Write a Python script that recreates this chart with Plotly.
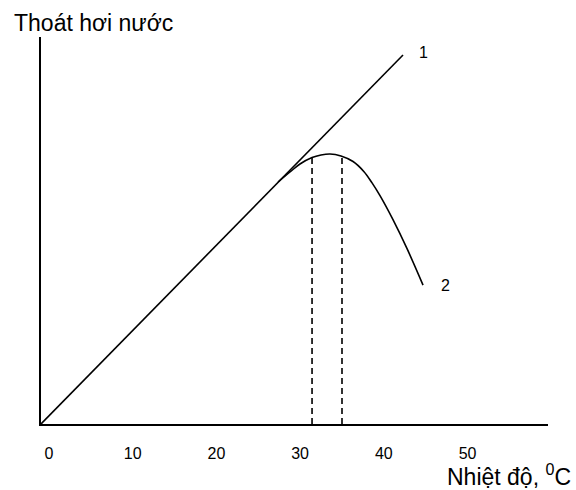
import plotly.graph_objects as go

# Data (temperature in °C, transpiration in arbitrary units)
line1_x = [0, 43.25]
line1_y = [0, 95.35]

curve2_x = [28.32, 29.75, 30.94, 32.38, 33.45, 34.53, 35.84, 37.28, 38.59, 39.55, 40.50, 42.05, 43.73, 45.64]
curve2_y = [62.53, 65.12, 67.18, 68.86, 69.51, 69.77, 69.25, 67.83, 65.20, 62.30, 59.00, 52.80, 45.30, 35.90]

dash_x = [32.38, 35.96]
dash_top = [68.86, 69.2]

tick_vals = [0, 10, 20, 30, 40, 50]
tick_text = ["0", "10", "20", "30", "40", "50"]

FONT = "Liberation Sans, Arial, sans-serif"

fig = go.Figure()
fig.add_trace(go.Scatter(x=line1_x, y=line1_y, mode="lines",
                         line=dict(color="black", width=1.6), showlegend=False))
fig.add_trace(go.Scatter(x=curve2_x, y=curve2_y, mode="lines",
                         line=dict(color="black", width=1.6, shape="spline", smoothing=1.0),
                         showlegend=False))
for dx, dt in zip(dash_x, dash_top):
    fig.add_trace(go.Scatter(x=[dx, dx], y=[0, dt], mode="lines",
                             line=dict(color="black", width=1.6, dash="6px,4px"), showlegend=False))

fig.add_annotation(x=45.64, y=96.1, text="1", showarrow=False,
                   font=dict(size=16, color="black", family=FONT))
fig.add_annotation(x=48.27, y=35.9, text="2", showarrow=False,
                   font=dict(size=16, color="black", family=FONT))

fig.add_annotation(xref="paper", yref="paper", x=-0.058, y=1.036, xanchor="left", yanchor="middle",
                   text="Thoát hơi nước", showarrow=False,
                   font=dict(size=23, color="black", family=FONT))
fig.add_annotation(xref="paper", yref="paper", x=1.05, y=-0.132, xanchor="right", yanchor="middle",
                   text="Nhiệt độ, <sup>0</sup>C", showarrow=False,
                   font=dict(size=23, color="black", family=FONT))

fig.update_layout(
    width=576, height=490,
    margin=dict(l=41, r=28, t=37, b=66),
    paper_bgcolor="white", plot_bgcolor="white",
    font=dict(family=FONT, color="black"),
    showlegend=False,
)
fig.update_xaxes(range=[0, 60.57], showgrid=False, zeroline=False, showline=True,
                 linecolor="black", linewidth=2, tickvals=tick_vals, ticktext=tick_text,
                 ticks="", ticklabelshift=8, ticklabelstandoff=14,
                 tickfont=dict(size=16, color="black", family=FONT))
fig.update_yaxes(range=[0, 100], showgrid=False, zeroline=False, showline=True,
                 linecolor="black", linewidth=2, showticklabels=False, ticks="")

fig.write_html("out.html", config={"displayModeBar": False},
               post_script="document.body.style.margin='0';")
